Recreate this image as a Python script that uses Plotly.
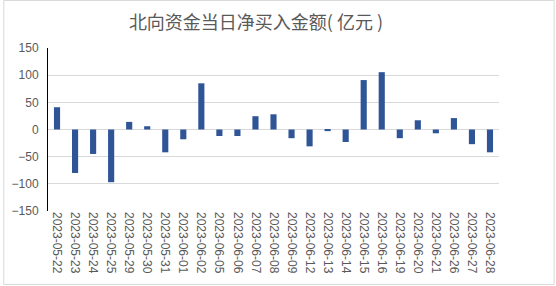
import plotly.graph_objects as go

dates = ["2023-05-22", "2023-05-23", "2023-05-24", "2023-05-25", "2023-05-29",
         "2023-05-30", "2023-05-31", "2023-06-01", "2023-06-02", "2023-06-05",
         "2023-06-06", "2023-06-07", "2023-06-08", "2023-06-09", "2023-06-12",
         "2023-06-13", "2023-06-14", "2023-06-15", "2023-06-16", "2023-06-19",
         "2023-06-20", "2023-06-21", "2023-06-26", "2023-06-27", "2023-06-28"]
net_buy = [41, -80, -45, -97, 14, 6, -42, -18, 85, -12, -12, 24.5, 28, -16, -31,
           -3, -23, 91, 105.5, -16, 17, -7, 21, -27, -42]
y_ticks = [-150, -100, -50, 0, 50, 100, 150]

W, H = 556, 286
L, R, T, B = 45, 57, 48, 75
pw, ph = W - L - R, H - T - B

fig = go.Figure(go.Bar(x=dates, y=net_buy, marker_color="#2F5597",
                       marker_line_width=0))

fig.update_layout(
    width=W, height=H,
    margin=dict(l=L, r=R, t=T, b=B),
    paper_bgcolor="white", plot_bgcolor="white",
    bargap=0.66,
    showlegend=False,
    title=dict(text="北向资金当日净买入金额( 亿元 )", x=256 / W, xanchor="center",
               y=1 - 23 / H, yanchor="middle",
               font=dict(family="Noto Sans CJK SC", size=18, color="#595959")),
    font=dict(family="Liberation Sans, Arial", size=12, color="#595959"),
)
fig.update_xaxes(type="category", tickangle=90, showgrid=False, showline=False,
                 ticks="", tickfont=dict(size=12, color="#595959"))
fig.update_yaxes(range=[-150, 150], tickvals=y_ticks, showgrid=True,
                 gridcolor="#D9D9D9", gridwidth=1, zeroline=True,
                 zerolinecolor="#D9D9D9", zerolinewidth=1,
                 showline=True, linecolor="black", linewidth=1,
                 ticks="", ticklabelstandoff=6,
                 tickfont=dict(size=12, color="#595959"))

# outer light border around the whole chart
fig.add_shape(type="rect", xref="paper", yref="paper",
              x0=(0.5 - L) / pw, x1=(W - 1.5 - L) / pw,
              y0=-(B - 1.5) / ph, y1=1 + (T - 0.5) / ph,
              line=dict(color="#D9D9D9", width=1), layer="below")

fig.write_html("out.html")
